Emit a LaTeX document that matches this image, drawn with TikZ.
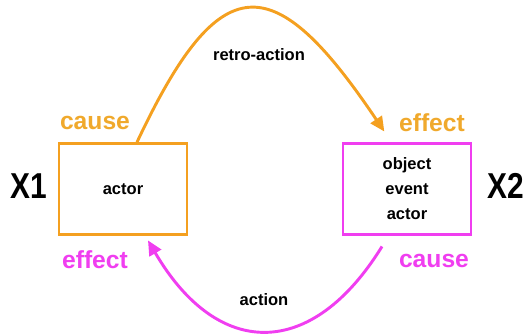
\documentclass[tikz,border=0pt]{standalone}
\usepackage{fontspec}
\setmainfont{Liberation Sans}
\usetikzlibrary{arrows.meta,calc}
\definecolor{orangeL}{HTML}{F4A020}
\definecolor{orangeT}{HTML}{F0A92C}
\definecolor{magL}{HTML}{F03EF0}
\tikzset{
  box/.style={draw, line width=2.2pt, minimum width=96pt, minimum height=68pt, align=center, inner sep=0pt,
    font=\fontsize{12.4}{18.75}\selectfont\bfseries},
  biglab/.style={anchor=base, font=\fontsize{18.5}{20}\selectfont\bfseries},
  smalllab/.style={anchor=base, font=\fontsize{12.4}{14}\selectfont\bfseries},
  xlab/.style={anchor=base, xscale=0.83, font=\fontsize{27}{30}\selectfont\bfseries},
  arc/.style={line width=2.2pt, -{Triangle[length=11pt,width=10pt]}}
}
\begin{document}
\begin{tikzpicture}[x=0.75pt,y=-0.75pt]
\useasboundingbox (0,0) rectangle (525,334);
\node[box, draw=orangeL] (a) at (123,189) {actor};
\node[box, draw=magL] (b) at (407,189) {object\\event\\actor};
\node[xlab] (x1) at (29,199) {X1};
\node[xlab] (x2) at (506,199) {X2};
\node[biglab, text=orangeT] (c1) at (95,130) {cause};
\node[biglab, text=orangeT] (e1) at (432,132) {effect};
\node[biglab, text=magL] (e2) at (95,269) {effect};
\node[biglab, text=magL] (c2) at (434,268) {cause};
\node[smalllab] (ra) at (259,61) {retro-action};
\node[smalllab] (ac) at (264,306) {action};
\coordinate (s1) at ([xshift=10.5pt]a.north);
\coordinate (t1) at ([xshift=-17pt,yshift=8pt]b.north);
\coordinate (s2) at ([xshift=-18.75pt,yshift=-8pt]b.south);
\coordinate (t2) at ([xshift=18.75pt,yshift=-3.5pt]a.south);
\draw[arc, orangeL] (s1) .. controls (220,-34) and (273,-34) .. (t1);
\draw[arc, magL] (s2) .. controls (312,360) and (218,360) .. (t2);
\end{tikzpicture}
\end{document}
